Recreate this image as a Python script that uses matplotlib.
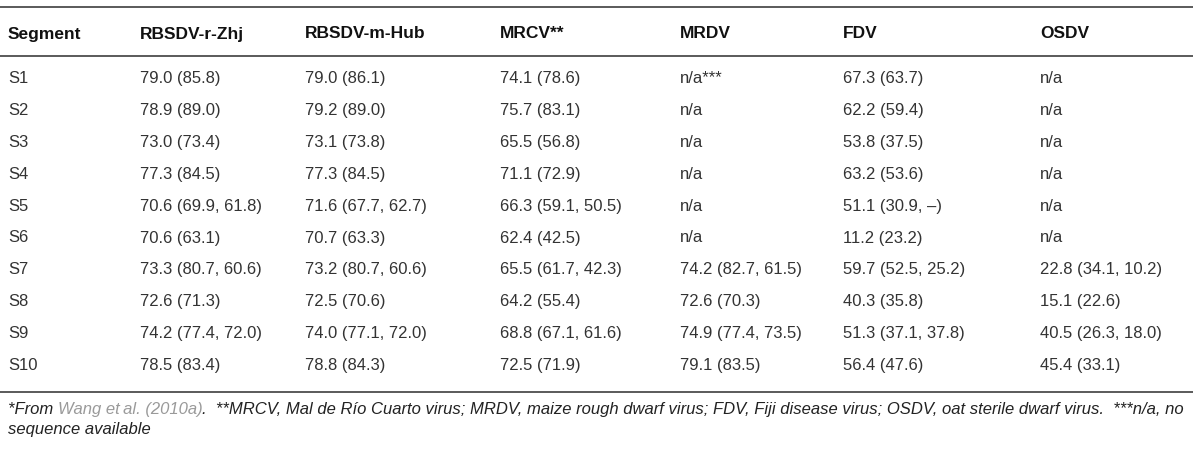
import matplotlib.pyplot as plt

plt.rcParams['font.family'] = ['Liberation Sans', 'DejaVu Sans']

headers = ['Segment', 'RBSDV-r-Zhj', 'RBSDV-m-Hub', 'MRCV**', 'MRDV', 'FDV', 'OSDV']
segments = ['S1', 'S2', 'S3', 'S4', 'S5', 'S6', 'S7', 'S8', 'S9', 'S10']
rbsdv_r_zhj = ['79.0 (85.8)', '78.9 (89.0)', '73.0 (73.4)', '77.3 (84.5)', '70.6 (69.9, 61.8)',
               '70.6 (63.1)', '73.3 (80.7, 60.6)', '72.6 (71.3)', '74.2 (77.4, 72.0)', '78.5 (83.4)']
rbsdv_m_hub = ['79.0 (86.1)', '79.2 (89.0)', '73.1 (73.8)', '77.3 (84.5)', '71.6 (67.7, 62.7)',
               '70.7 (63.3)', '73.2 (80.7, 60.6)', '72.5 (70.6)', '74.0 (77.1, 72.0)', '78.8 (84.3)']
mrcv = ['74.1 (78.6)', '75.7 (83.1)', '65.5 (56.8)', '71.1 (72.9)', '66.3 (59.1, 50.5)',
        '62.4 (42.5)', '65.5 (61.7, 42.3)', '64.2 (55.4)', '68.8 (67.1, 61.6)', '72.5 (71.9)']
mrdv = ['n/a***', 'n/a', 'n/a', 'n/a', 'n/a', 'n/a',
        '74.2 (82.7, 61.5)', '72.6 (70.3)', '74.9 (77.4, 73.5)', '79.1 (83.5)']
fdv = ['67.3 (63.7)', '62.2 (59.4)', '53.8 (37.5)', '63.2 (53.6)', '51.1 (30.9, \u2013)',
       '11.2 (23.2)', '59.7 (52.5, 25.2)', '40.3 (35.8)', '51.3 (37.1, 37.8)', '56.4 (47.6)']
osdv = ['n/a', 'n/a', 'n/a', 'n/a', 'n/a', 'n/a',
        '22.8 (34.1, 10.2)', '15.1 (22.6)', '40.5 (26.3, 18.0)', '45.4 (33.1)']

footnote_parts = [
    ('*From ', '#222222'),
    ('Wang et\u2009al. (2010a)', '#9a9a9a'),
    ('.  **MRCV, Mal de R\u00edo Cuarto virus; MRDV, maize rough dwarf virus; FDV, Fiji disease virus; '
     'OSDV, oat sterile dwarf virus.  ***n/a, no', '#222222'),
]
footnote_line2 = 'sequence available'

columns = [segments, rbsdv_r_zhj, rbsdv_m_hub, mrcv, mrdv, fdv, osdv]
col_x = [8, 140, 305, 500, 680, 843, 1040]

fig = plt.figure(figsize=(12, 4.49), dpi=100)
ax = fig.add_axes([0, 0, 1, 1])
ax.set_xlim(0, 1200)
ax.set_ylim(449, 0)
ax.axis('off')

line_color = '#5a5a5a'
for y in (7, 56, 392):
    ax.plot([0, 1193], [y, y], color=line_color, lw=1.4, solid_capstyle='butt')

for x, h in zip(col_x, headers):
    ax.text(x, 38.5, h, fontsize=12.5, fontweight='bold', color='#111111', va='baseline', ha='left')

row0, step = 83, 31.9
for x, col in zip(col_x, columns):
    for i, val in enumerate(col):
        ax.text(x, row0 + i * step, val, fontsize=12, color='#333333', va='baseline', ha='left')

# footnote with mixed colours, pieces placed one after another
fig.canvas.draw()
renderer = fig.canvas.get_renderer()
x_px = 8
for txt, c in footnote_parts:
    t = ax.text(x_px, 414, txt, fontsize=12, style='italic', color=c, va='baseline', ha='left')
    bb = t.get_window_extent(renderer=renderer)
    x_px += bb.width
ax.text(8, 434, footnote_line2, fontsize=12, style='italic', color='#222222', va='baseline', ha='left')

fig.savefig('out.png', dpi=100)
